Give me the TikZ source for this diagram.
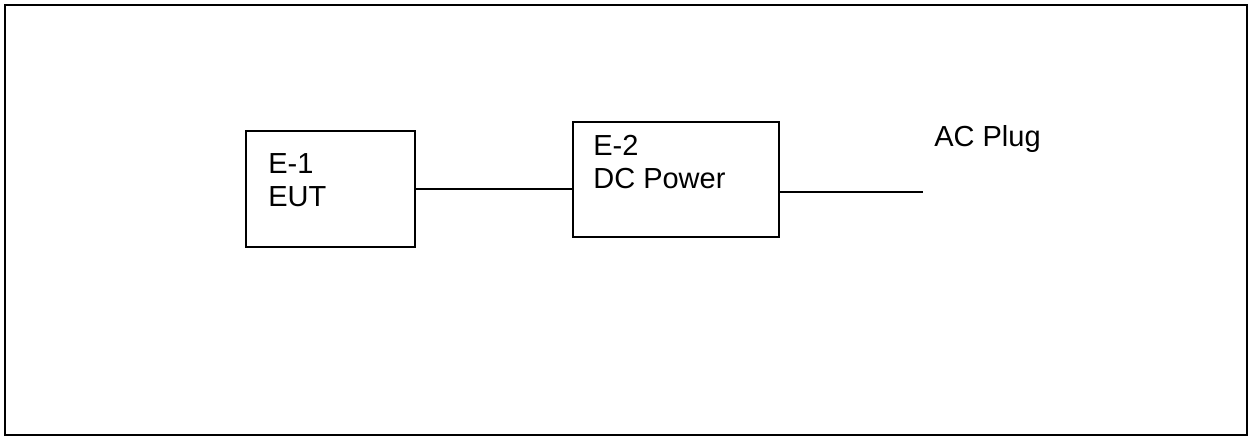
\documentclass[tikz,border=0pt]{standalone}
\usepackage{fontspec}
\setmainfont{Liberation Sans}
\usepackage{tikz}
\usetikzlibrary{positioning}

\begin{document}
\begin{tikzpicture}[
      x=0.02cm, y=-0.02cm,
      unit/.style = {rectangle, draw, line width=0.85pt, inner sep=0pt},
      utxt/.style = {font=\fontsize{16.5pt}{19pt}\selectfont, align=left, inner sep=0pt, anchor=north west},
      wire/.style = {line width=0.85pt},
    ]
    \useasboundingbox (0,0) rectangle (1250,436);
    \draw[line width=1.1pt] (5,5) rectangle (1247,435);

    \node[unit, minimum width=3.38cm, minimum height=2.32cm] (e1) at (330.5,189) {};
    \node[utxt] (e1t) at (268,153) {E-1\\EUT};

    \node[unit, minimum width=4.12cm, minimum height=2.30cm] (e2) at (676,179.5) {};
    \node[utxt] (e2t) at (593,135) {E-2\\DC Power};

    \coordinate (plug) at (923,192);
    \node[utxt, anchor=base west] (ac) at (934,146) {AC Plug};

    \draw[wire] (e1.east) -- (e1.east -| e2.west);
    \draw[wire] (e2.east |- plug) -- (plug);
  \end{tikzpicture}
\end{document}
